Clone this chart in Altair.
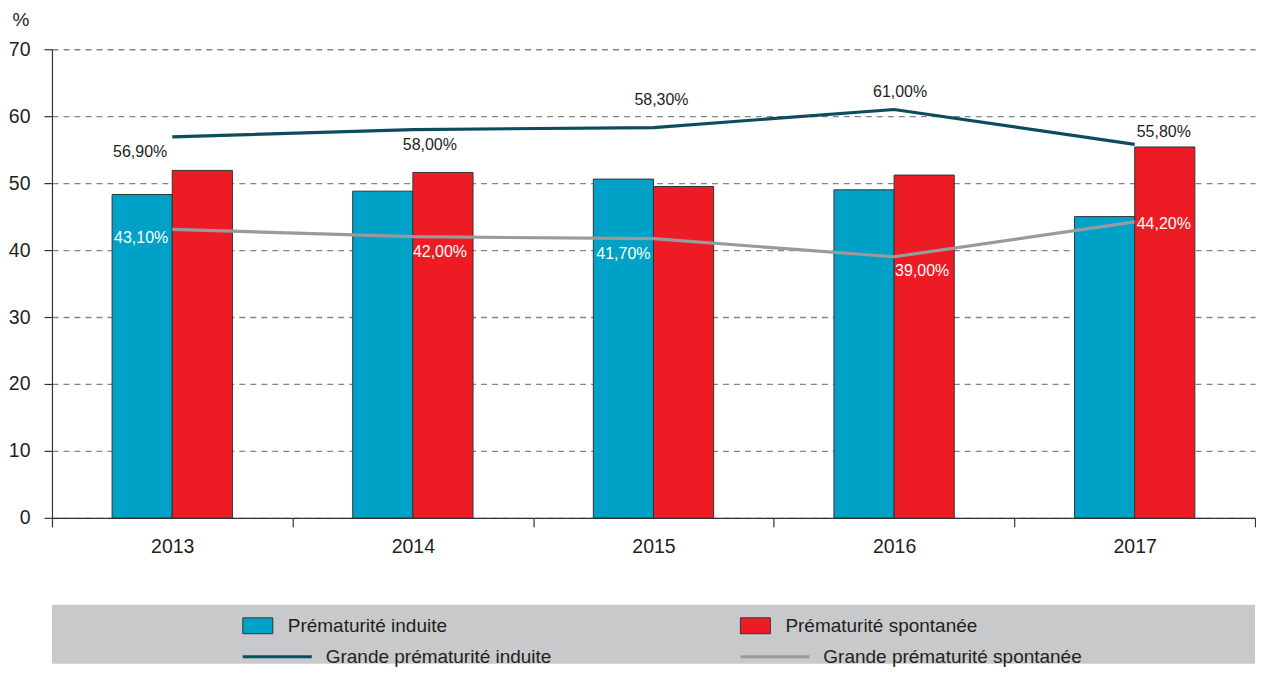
import altair as alt
import pandas as pd

# ---------------- data ----------------
years = ["2013", "2014", "2015", "2016", "2017"]
induite = [48.3, 48.8, 50.6, 49.0, 45.0]
spontanee = [51.9, 51.6, 49.5, 51.2, 55.4]
grande_induite = [56.9, 58.0, 58.3, 61.0, 55.8]
grande_spontanee = [43.1, 42.0, 41.7, 39.0, 44.2]

bar_series = ["Prématurité induite", "Prématurité spontanée"]
line_series = ["Grande prématurité induite", "Grande prématurité spontanée"]
y_ticks = [0, 10, 20, 30, 40, 50, 60, 70]

# ---------------- styles ----------------
BLUE = "#00A1C7"
RED = "#ED1C24"
DARK = "#0D4C5E"
GREY = "#9A9A9A"
TXT = "#231F20"
LEG_BG = "#C8C9CB"
FONT = "Liberation Sans"
W = 1204

# label placement (align, dx, dy) for each point label
top_layout = [("right", -5, 15), ("center", 17, 15), ("center", 8, -28), ("center", 6, -17), ("left", 2, -12)]
bot_layout = [("right", -4, 9), ("left", 0, 15), ("right", -3, 15), ("left", 1, 14), ("left", 2, 2)]


def fmt(v):
    return f"{v:.2f}".replace(".", ",") + "%"


bars_df = pd.DataFrame({
    "year": years * 2,
    "series": [bar_series[0]] * len(years) + [bar_series[1]] * len(years),
    "value": induite + spontanee,
})

lines_df = pd.DataFrame({
    "year": years * 2,
    "series": [line_series[0]] * len(years) + [line_series[1]] * len(years),
    "value": grande_induite + grande_spontanee,
    "label": [fmt(v) for v in grande_induite + grande_spontanee],
})

x_enc = alt.X(
    "year:N",
    title=None,
    sort=years,
    scale=alt.Scale(paddingInner=0, paddingOuter=0),
    axis=alt.Axis(labelAngle=0, tickBand="extent", labelFontSize=19.5, labelPadding=11,
                  tickSize=9, grid=False),
)
y_enc = alt.Y(
    "value:Q",
    scale=alt.Scale(domain=[0, 70], nice=False, zero=True),
    axis=alt.Axis(values=y_ticks, title="%", titleAngle=0, titleAlign="left",
                  titleBaseline="alphabetic", titleX=-40, titleY=-24, titleFontSize=19,
                  titleFontWeight="normal", titleColor=TXT,
                  labelFontSize=19.5, labelPadding=14, tickSize=8,
                  grid=True, gridDash=[6, 5], gridColor="#858585", gridWidth=1.3),
)

bars = alt.Chart(bars_df).mark_bar(stroke="#333333", strokeWidth=1).encode(
    x=x_enc,
    xOffset=alt.XOffset("series:N", sort=bar_series,
                        scale=alt.Scale(paddingInner=0, paddingOuter=1)),
    y=y_enc,
    fill=alt.Fill("series:N", scale=alt.Scale(domain=bar_series, range=[BLUE, RED]), legend=None),
)

lines = alt.Chart(lines_df).mark_line(strokeWidth=3.2).encode(
    x=x_enc,
    y=y_enc,
    stroke=alt.Stroke("series:N", scale=alt.Scale(domain=line_series, range=[DARK, GREY]), legend=None),
    detail="series:N",
)

label_layers = []
for series, layout, color in [(line_series[0], top_layout, TXT), (line_series[1], bot_layout, "white")]:
    for yr, (align, dx, dy) in zip(years, layout):
        label_layers.append(
            alt.Chart(lines_df)
            .transform_filter((alt.datum.series == series) & (alt.datum.year == yr))
            .mark_text(align=align, baseline="middle", dx=dx, dy=dy, fontSize=16, color=color)
            .encode(x=x_enc, y=y_enc, text="label:N")
        )

main = alt.layer(bars, lines, *label_layers).properties(width=W, height=469)

# ---------------- legend panel ----------------
leg_df = pd.DataFrame({
    "label": bar_series + line_series,
    "col": [0, 1, 0, 1],
    "row": [0, 0, 1, 1],
    "kind": ["bar", "bar", "line", "line"],
})
ly = alt.Y("row:Q", scale=alt.Scale(domain=[0, 1], range=[21, 52]), axis=None)
leg_col = alt.Scale(domain=bar_series + line_series, range=[BLUE, RED, DARK, GREY])


def lx(first):
    # legend columns: second column starts 498 px after the first
    return alt.X("col:Q", scale=alt.Scale(domain=[0, 1], range=[first, first + 498]), axis=None)


sw_bar = alt.Chart(leg_df).transform_filter(alt.datum.kind == "bar").mark_point(
    shape="M-1,-0.53H1V0.53H-1Z", filled=True, size=900, stroke="#333333", strokeWidth=1,
    opacity=1,
).encode(x=lx(206), y=ly, fill=alt.Fill("label:N", scale=leg_col, legend=None))

sw_line = alt.Chart(leg_df).transform_filter(alt.datum.kind == "line").mark_point(
    shape="stroke", filled=False, size=4761, strokeWidth=3.2, opacity=1,
).encode(x=lx(225.5), y=ly, stroke=alt.Stroke("label:N", scale=leg_col, legend=None))

tx_bar = alt.Chart(leg_df).transform_filter(alt.datum.kind == "bar").mark_text(
    align="left", baseline="middle", fontSize=19, color=TXT,
).encode(x=lx(236), y=ly, text="label:N")

tx_line = alt.Chart(leg_df).transform_filter(alt.datum.kind == "line").mark_text(
    align="left", baseline="middle", fontSize=19, color=TXT,
).encode(x=lx(274), y=ly, text="label:N")

legend_panel = alt.layer(sw_bar, sw_line, tx_bar, tx_line).resolve_scale(
    x="independent"
).properties(
    width=W, height=59,
    view=alt.ViewBackground(fill=LEG_BG, strokeWidth=0),
)

chart = (
    alt.vconcat(main, legend_panel, spacing=48)
    .properties(padding={"left": 0, "top": 2, "right": 0, "bottom": 0})
    .configure(font=FONT)
    .configure_view(strokeWidth=0)
    .configure_axis(domainColor="#333333", domainWidth=1.2, tickColor="#333333", tickWidth=1.2,
                    labelColor=TXT, labelFont=FONT, titleFont=FONT)
    .configure_text(font=FONT)
)

chart.save("out.html", embed_options={"renderer": "svg", "actions": False})
